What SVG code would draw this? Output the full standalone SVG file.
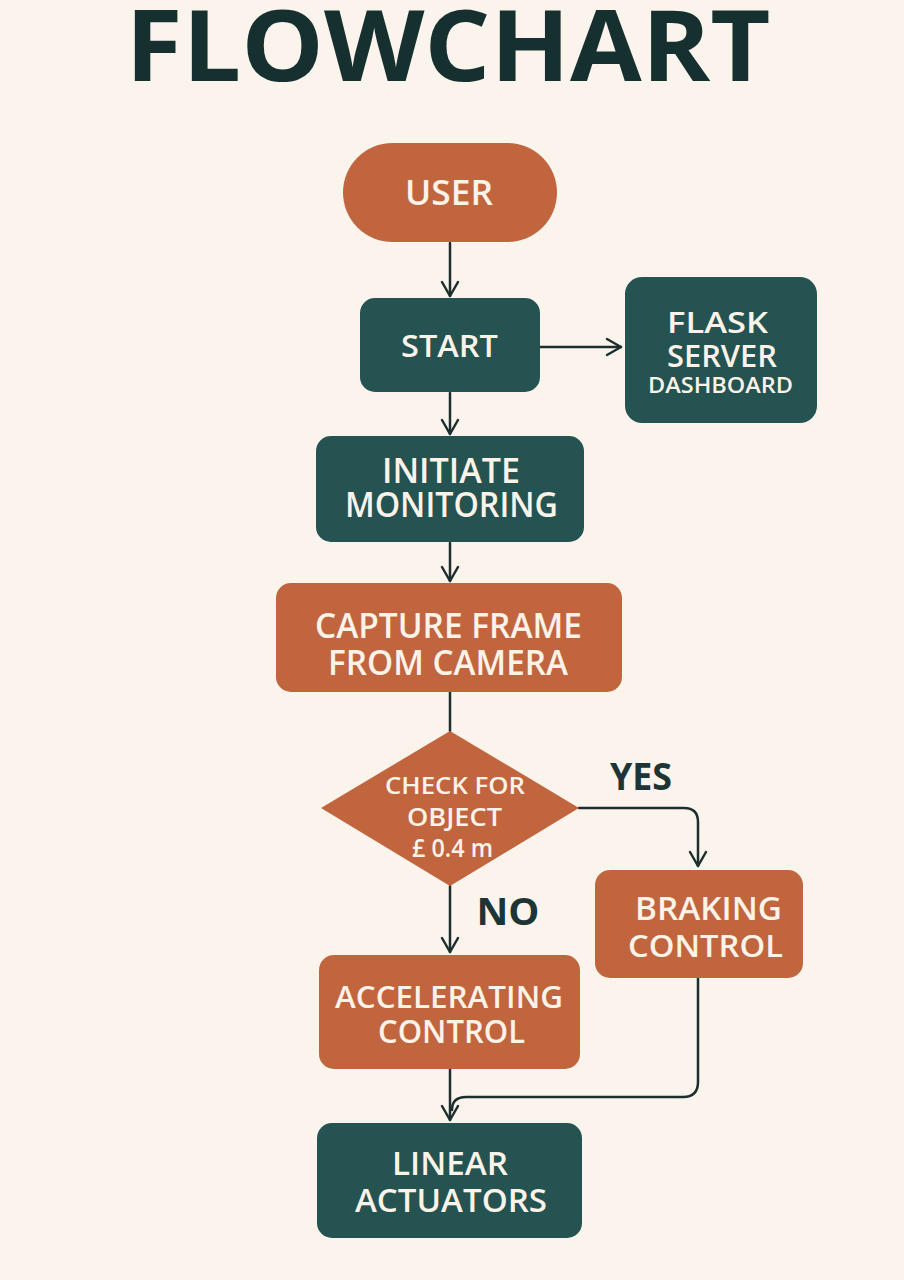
<svg xmlns="http://www.w3.org/2000/svg" width="904" height="1280" viewBox="0 0 904 1280">
<defs>
<style>
.bg{fill:#fbf4ed}
.or{fill:#c1653f}
.tl{fill:#245352}
.t{font-family:"Open Sans","Noto Sans",sans-serif;font-weight:600;fill:#fbf2e8;text-anchor:middle}
.ln{fill:none;stroke:#1c2f2e;stroke-width:2.5;stroke-linecap:round;stroke-linejoin:round}
.lab{font-family:"Open Sans","Noto Sans",sans-serif;font-weight:700;fill:#1d3534;text-anchor:middle}
</style>
<marker id="ah" viewBox="0 0 20 20" refX="18" refY="10" markerWidth="20" markerHeight="20" markerUnits="userSpaceOnUse" orient="auto">
<path d="M4,2 L18,10 L4,18" fill="none" stroke="#1c2f2e" stroke-width="2.5" stroke-linecap="round" stroke-linejoin="round"/>
</marker>
</defs>
<rect class="bg" x="0" y="0" width="904" height="1280"/>
<text x="448" y="81" font-family="'Open Sans','Noto Sans',sans-serif" font-weight="700" font-size="98" fill="#16302f" text-anchor="middle" textLength="645" lengthAdjust="spacingAndGlyphs">FLOWCHART</text>

<g id="connectors">
<path class="ln" d="M450,243 V296" marker-end="url(#ah)"/>
<path class="ln" d="M540,347 H621" marker-end="url(#ah)"/>
<path class="ln" d="M450,393 V434" marker-end="url(#ah)"/>
<path class="ln" d="M450,543 V581" marker-end="url(#ah)"/>
<path class="ln" d="M450,692 V731"/>
<path class="ln" d="M579,808 H684 Q698,808 698,822 V866" marker-end="url(#ah)"/>
<path class="ln" d="M450,886 V952" marker-end="url(#ah)"/>
<path class="ln" d="M450,1069 V1120" marker-end="url(#ah)"/>
<path class="ln" d="M698,978 V1082 Q698,1097 683,1097 H466 Q452,1097 452,1110"/>
<text class="lab" x="641" y="790" font-size="37" textLength="62" lengthAdjust="spacingAndGlyphs">YES</text>
<text class="lab" x="508" y="925" font-size="38" textLength="63" lengthAdjust="spacingAndGlyphs">NO</text>
</g>

<g id="user">
<rect class="or" x="343" y="143" width="214" height="99" rx="49.5"/>
<text class="t" x="449" y="205" font-size="35" textLength="88" lengthAdjust="spacingAndGlyphs">USER</text>
</g>
<g id="start">
<rect class="tl" x="360" y="298" width="180" height="94" rx="15"/>
<text class="t" x="449.5" y="357" font-size="31" textLength="97" lengthAdjust="spacingAndGlyphs">START</text>
</g>
<g id="flask">
<rect class="tl" x="625" y="277" width="192" height="146" rx="17"/>
<text class="t" x="717.5" y="333" font-size="29" textLength="101" lengthAdjust="spacingAndGlyphs">FLASK</text>
<text class="t" x="722" y="367" font-size="30" textLength="110" lengthAdjust="spacingAndGlyphs">SERVER</text>
<text class="t" x="720.5" y="393" font-size="22" textLength="145" lengthAdjust="spacingAndGlyphs">DASHBOARD</text>
</g>
<g id="initiate">
<rect class="tl" x="316" y="436" width="268" height="106" rx="15"/>
<text class="t" x="451" y="483" font-size="35" textLength="138" lengthAdjust="spacingAndGlyphs">INITIATE</text>
<text class="t" x="451.5" y="517" font-size="35" textLength="213" lengthAdjust="spacingAndGlyphs">MONITORING</text>
</g>
<g id="capture">
<rect class="or" x="276" y="583" width="346" height="109" rx="15"/>
<text class="t" x="448.5" y="638" font-size="35" textLength="267" lengthAdjust="spacingAndGlyphs">CAPTURE FRAME</text>
<text class="t" x="448" y="675" font-size="35" textLength="240" lengthAdjust="spacingAndGlyphs">FROM CAMERA</text>
</g>
<g id="check">
<path class="or" d="M450,731 L579,808 L450,886 L321,808 Z"/>
<text class="t" x="455" y="794" font-size="24" textLength="140" lengthAdjust="spacingAndGlyphs">CHECK FOR</text>
<text class="t" x="454.5" y="826" font-size="25" textLength="95" lengthAdjust="spacingAndGlyphs">OBJECT</text>
<text class="t" x="452.5" y="857" font-size="25" textLength="81" lengthAdjust="spacingAndGlyphs">£ 0.4 m</text>
</g>
<g id="braking">
<rect class="or" x="595" y="870" width="208" height="108" rx="15"/>
<text class="t" x="708.5" y="920" font-size="32" textLength="147" lengthAdjust="spacingAndGlyphs">BRAKING</text>
<text class="t" x="705.5" y="957" font-size="31" textLength="155" lengthAdjust="spacingAndGlyphs">CONTROL</text>
</g>
<g id="accelerating">
<rect class="or" x="319" y="955" width="261" height="114" rx="15"/>
<text class="t" x="449" y="1008" font-size="30" textLength="228" lengthAdjust="spacingAndGlyphs">ACCELERATING</text>
<text class="t" x="451.5" y="1043" font-size="32" textLength="147" lengthAdjust="spacingAndGlyphs">CONTROL</text>
</g>
<g id="linear">
<rect class="tl" x="317" y="1123" width="265" height="115" rx="15"/>
<text class="t" x="450" y="1175" font-size="32" textLength="116" lengthAdjust="spacingAndGlyphs">LINEAR</text>
<text class="t" x="451" y="1212" font-size="33" textLength="192" lengthAdjust="spacingAndGlyphs">ACTUATORS</text>
</g>
</svg>
